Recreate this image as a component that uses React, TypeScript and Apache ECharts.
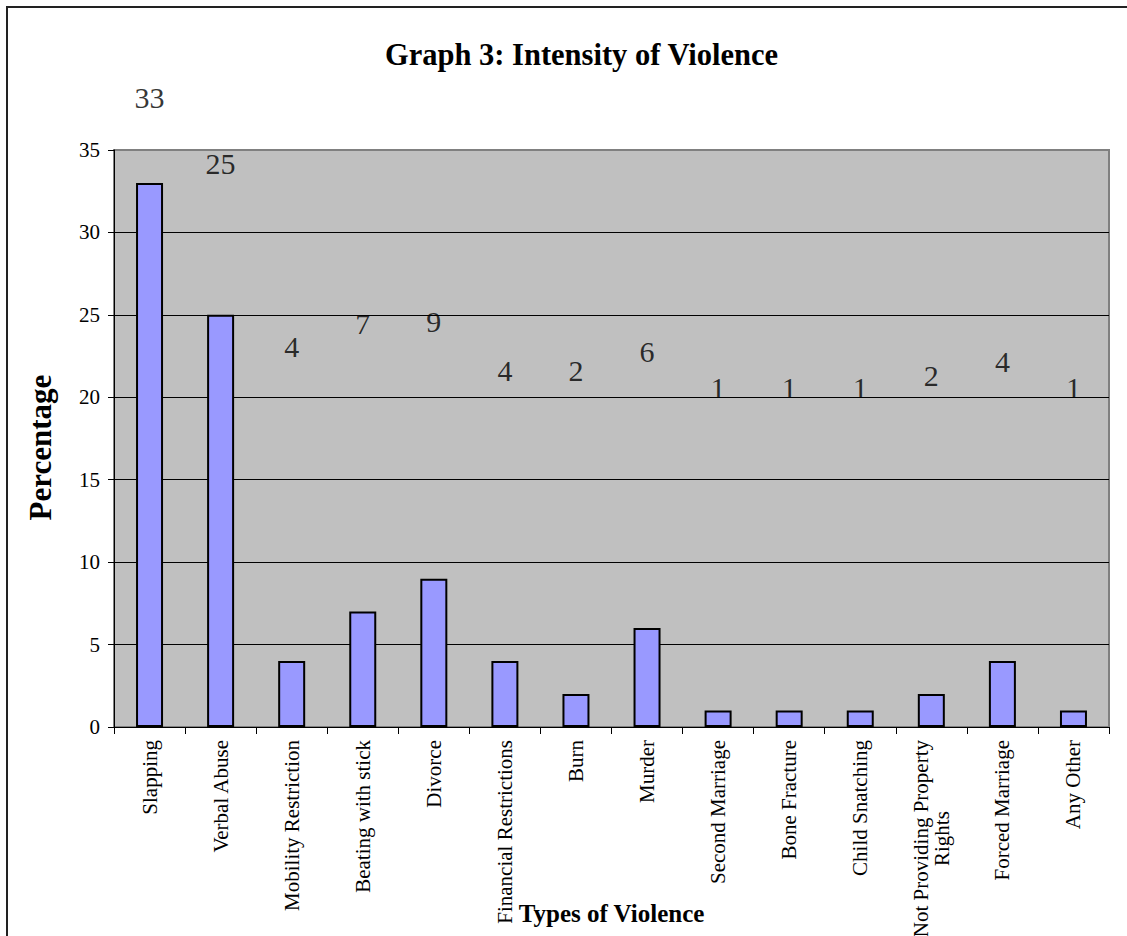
import React, { useEffect, useRef } from "react";
import * as echarts from "echarts";

const categories = [
  "Slapping",
  "Verbal Abuse",
  "Mobility Restriction",
  "Beating with stick",
  "Divorce",
  "Financial Restrictions",
  "Burn",
  "Murder",
  "Second Marriage",
  "Bone Fracture",
  "Child Snatching",
  "Not Providing Property\nRights",
  "Forced Marriage",
  "Any Other",
];
const percentages = [33, 25, 4, 7, 9, 4, 2, 6, 1, 1, 1, 2, 4, 1];
// where each (displaced) data label sits, in axis units
const labelHeights = [38.2, 34.2, 23.1, 24.5, 24.6, 21.6, 21.6, 22.8, 20.6, 20.6, 20.6, 21.3, 22.2, 20.6];
const yMin = 0;
const yMax = 35;
const yStep = 5;

const FONT = "'Liberation Serif', 'Times New Roman', serif";

export default function App() {
  const ref = useRef<HTMLDivElement>(null);
  useEffect(() => {
    document.body.style.margin = "0";
    const chart = echarts.init(ref.current!, null, { renderer: "svg" });
    chart.setOption({
      animation: false,
      backgroundColor: "#fff",
      title: {
        text: "Graph 3: Intensity of Violence",
        left: 385,
        top: 39,
        padding: 0,
        textStyle: { fontFamily: FONT, fontWeight: "bold", fontSize: 30.5, color: "#000" },
      },
      graphic: [
        {
          type: "rect",
          shape: { x: 7, y: 7, width: 1200, height: 1000 },
          style: { fill: "none", stroke: "#222", lineWidth: 2 },
          silent: true,
        },
      ],
      grid: {
        left: 114,
        right: 18,
        top: 150,
        bottom: 209,
        show: true,
        outerBoundsMode: "none",
        containLabel: false,
        backgroundColor: "#C0C0C0",
        borderColor: "#808080",
        borderWidth: 2,
      },
      xAxis: {
        type: "category",
        data: categories,
        boundaryGap: true,
        name: "Types of Violence",
        nameLocation: "middle",
        nameGap: 174,
        nameMoveOverlap: false,
        nameTextStyle: { fontFamily: FONT, fontWeight: "bold", fontSize: 25, color: "#000" },
        axisLine: { show: true, lineStyle: { color: "#000", width: 1 } },
        axisTick: { show: true, length: 7, alignWithLabel: false, lineStyle: { color: "#000" } },
        axisLabel: {
          rotate: 90,
          margin: 13,
          interval: 0,
          fontFamily: FONT,
          fontSize: 21,
          color: "#000",
          formatter: (v: string) =>
            v.includes("\n")
              ? v
                  .split("\n")
                  .map((l, i) => `{${i ? "b" : "a"}|${l}}`)
                  .join("\n")
              : v,
          rich: {
            a: { fontFamily: FONT, fontSize: 21, color: "#000" },
            b: { fontFamily: FONT, fontSize: 21, color: "#000", align: "center" },
          },
        },
        splitLine: { show: false },
      },
      yAxis: {
        type: "value",
        min: yMin,
        max: yMax,
        interval: yStep,
        name: "Percentage",
        nameLocation: "middle",
        nameGap: 58,
        nameMoveOverlap: false,
        nameTextStyle: {
          fontFamily: FONT,
          fontWeight: "bold",
          fontSize: 31,
          color: "#000",
          padding: [0, 18, 0, 0],
        },
        axisLine: { show: true, lineStyle: { color: "#000", width: 1 } },
        axisTick: { show: true, length: 6, lineStyle: { color: "#000" } },
        axisLabel: { margin: 14, fontFamily: FONT, fontSize: 21, color: "#000" },
        splitLine: { show: true, showMinLine: false, showMaxLine: false, lineStyle: { color: "#000", width: 1 } },
      },
      series: [
        {
          type: "bar",
          data: percentages,
          barWidth: 27,
          itemStyle: { color: "#9999FF", borderColor: "#000", borderWidth: 2 },
          z: 2,
        },
        {
          type: "scatter",
          data: labelHeights.map((h, i) => [i, h]),
          symbolSize: 1,
          clip: false,
          itemStyle: { color: "rgba(0,0,0,0)" },
          label: {
            show: true,
            position: "inside",
            fontFamily: FONT,
            fontSize: 30,
            color: "#000",
            formatter: (p: any) => String(percentages[p.dataIndex]),
          },
          z: 3,
        },
      ],
    });
    return () => chart.dispose();
  }, []);
  return <div ref={ref} style={{ width: 1127, height: 936, overflow: "hidden" }} />;
}
